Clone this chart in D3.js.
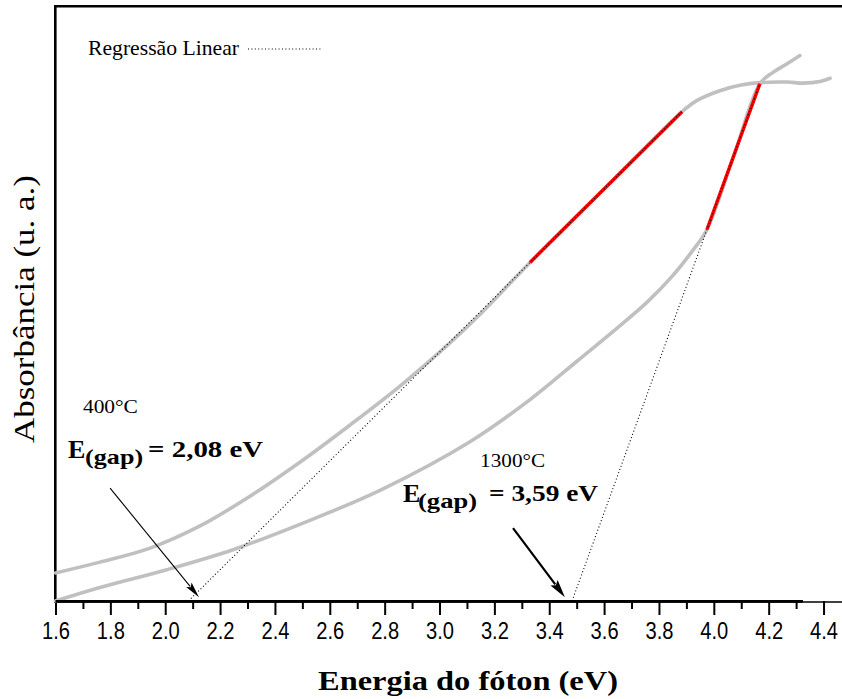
<!DOCTYPE html>
<html>
<head>
<meta charset="utf-8">
<script src="https://cdn.jsdelivr.net/npm/d3@7/dist/d3.min.js"></script>
<style>
  html, body { margin: 0; padding: 0; background: #fff; }
  svg { display: block; }
  .serif { font-family: "Liberation Serif", "Times New Roman", Times, serif; }
</style>
</head>
<body>
<svg id="chart" width="842" height="699"></svg>
<script>
// Absorbance spectra (arbitrary units) versus photon energy (eV)
const energy400 = [1.600, 1.762, 1.945, 2.127, 2.309, 2.491, 2.674, 2.856, 3.038, 3.148, 3.330, 3.607, 3.884, 3.939, 4.022, 4.095, 4.168, 4.267, 4.326, 4.387, 4.424];
const abs400    = [0.052, 0.072, 0.098, 0.139, 0.194, 0.257, 0.326, 0.398, 0.478, 0.531, 0.627, 0.767, 0.906, 0.927, 0.945, 0.955, 0.960, 0.961, 0.959, 0.962, 0.968];

const energy1300 = [1.600, 1.762, 2.006, 2.247, 2.491, 2.783, 3.111, 3.330, 3.501, 3.632, 3.756, 3.851, 3.920, 3.975, 4.072, 4.168, 4.216, 4.267, 4.314];
const abs1300    = [0.000, 0.025, 0.058, 0.095, 0.142, 0.205, 0.295, 0.373, 0.444, 0.499, 0.553, 0.603, 0.647, 0.688, 0.823, 0.958, 0.979, 0.995, 1.010];

// Linear-region fits: [energy, absorbance] end points of each fitted segment
const fit400  = [[3.330, 0.627], [3.884, 0.906]];
const fit1300 = [[3.975, 0.688], [4.168, 0.958]];

// Black reference baseline
const baselineEnergy = [1.600, 4.325];

// Axis ticks
const majorTicks = [1.6, 1.8, 2.0, 2.2, 2.4, 2.6, 2.8, 3.0, 3.2, 3.4, 3.6, 3.8, 4.0, 4.2, 4.4];
const minorTicks = [1.7, 1.9, 2.1, 2.3, 2.5, 2.7, 2.9, 3.1, 3.3, 3.5, 3.7, 3.9, 4.1, 4.3];

// Annotation texts and anchors (energy, absorbance)
const sampleLabels = [
  { text: "400°C",  at: [1.700, 0.348], len: 55 },
  { text: "1300°C", at: [3.148, 0.248], len: 65 }
];
const gapLabels = [
  { value: "= 2,08 eV", at: [1.646, 0.265], valueDx: 80, valueLen: 115, subDx: 17, subLen: 58 },
  { value: "= 3,59 eV", at: [2.867, 0.183], valueDx: 86, valueLen: 109, subDx: 15, subLen: 59 }
];
const gapArrows = [
  { from: [1.799, 0.209], to: [2.123, 0.007], width: 1.1, head: 16, headW: 7 },
  { from: [3.268, 0.135], to: [3.457, 0.007], width: 2.2, head: 18, headW: 9 }
];

const svg = d3.select("#chart");
const W = 842;

const x = d3.scaleLinear().domain([1.6, 4.47]).range([55.5, 55.5 + 2.87 * 274.3]);
const y = d3.scaleLinear().domain([0, 1.1]).range([601, 7]);

// Frame: top and left borders
svg.append("line").attr("x1", 54).attr("x2", W).attr("y1", 6.2).attr("y2", 6.2)
  .attr("stroke", "#000").attr("stroke-width", 2.4);
svg.append("line").attr("x1", 55.3).attr("x2", 55.3).attr("y1", 5).attr("y2", 602.5)
  .attr("stroke", "#000").attr("stroke-width", 2.6);

// Bottom axis line across the full width
svg.append("line").attr("x1", 54).attr("x2", W).attr("y1", 602).attr("y2", 602)
  .attr("stroke", "#000").attr("stroke-width", 1.4);

// Minor and major ticks
const minorAxis = d3.axisBottom(x).tickValues(minorTicks).tickSize(8).tickFormat("");
const majorAxis = d3.axisBottom(x).tickValues(majorTicks).tickSize(14).tickPadding(8)
  .tickFormat(d3.format(".1f"));

const gMinor = svg.append("g").attr("transform", `translate(0,${y(0)})`).call(minorAxis);
const gMajor = svg.append("g").attr("transform", `translate(0,${y(0)})`).call(majorAxis);
[gMinor, gMajor].forEach(g => {
  g.select(".domain").remove();
  g.selectAll(".tick line").attr("stroke", "#000").attr("stroke-width", 2);
});
gMajor.selectAll(".tick text")
  .attr("fill", "#000")
  .attr("font-family", "Liberation Sans Narrow, Arial Narrow, Liberation Sans, Arial, sans-serif")
  .attr("font-size", 23)
  .attr("textLength", 28)
  .attr("lengthAdjust", "spacingAndGlyphs");

// Axis titles
svg.append("text").attr("class", "serif")
  .attr("x", 468).attr("y", 690)
  .attr("text-anchor", "middle")
  .attr("textLength", 300).attr("lengthAdjust", "spacingAndGlyphs")
  .attr("font-weight", "bold").attr("font-size", 28)
  .text("Energia do fóton (eV)");

svg.append("text").attr("class", "serif")
  .attr("transform", "translate(34,309) rotate(-90)")
  .attr("text-anchor", "middle")
  .attr("textLength", 268).attr("lengthAdjust", "spacingAndGlyphs")
  .attr("font-size", 30)
  .text("Absorbância (u. a.)");

// Spectra
const line = d3.line().x(d => x(d[0])).y(d => y(d[1])).curve(d3.curveCatmullRom.alpha(0.5));
const s400 = energy400.map((e, i) => [e, abs400[i]]);
const s1300 = energy1300.map((e, i) => [e, abs1300[i]]);

[s400, s1300].forEach(s => {
  svg.append("path").datum(s).attr("d", line)
    .attr("fill", "none").attr("stroke", "#c0c0c0")
    .attr("stroke-width", 3.6).attr("stroke-linecap", "round").attr("stroke-linejoin", "round");
});

// Black baseline
svg.append("line")
  .attr("x1", x(baselineEnergy[0])).attr("x2", x(baselineEnergy[1]))
  .attr("y1", y(0) + 0.3).attr("y2", y(0) + 0.3)
  .attr("stroke", "#000").attr("stroke-width", 2.8);

// Fitted linear regions (red)
[fit400, fit1300].forEach(f => {
  svg.append("line")
    .attr("x1", x(f[0][0])).attr("y1", y(f[0][1]))
    .attr("x2", x(f[1][0])).attr("y2", y(f[1][1]))
    .attr("stroke", "#ff0000").attr("stroke-width", 3.4).attr("stroke-linecap", "butt");
});

// Regression lines extrapolated down to zero absorbance
[fit400, fit1300].forEach(f => {
  const slope = (f[1][1] - f[0][1]) / (f[1][0] - f[0][0]);
  const e0 = f[0][0] - f[0][1] / slope;
  svg.append("line")
    .attr("x1", x(e0)).attr("y1", y(0))
    .attr("x2", x(f[1][0])).attr("y2", y(f[1][1]))
    .attr("stroke", "#000").attr("stroke-width", 1.1)
    .attr("stroke-dasharray", "1 2.4");
});

// Legend
svg.append("text").attr("class", "serif")
  .attr("x", 88).attr("y", 55)
  .attr("textLength", 151).attr("lengthAdjust", "spacingAndGlyphs")
  .attr("font-size", 21)
  .text("Regressão Linear");
svg.append("line")
  .attr("x1", 248).attr("x2", 321).attr("y1", 49).attr("y2", 49)
  .attr("stroke", "#000").attr("stroke-width", 1.1).attr("stroke-dasharray", "1 2.4");

// Sample temperature labels
sampleLabels.forEach(l => {
  svg.append("text").attr("class", "serif")
    .attr("x", x(l.at[0])).attr("y", y(l.at[1]))
    .attr("textLength", l.len).attr("lengthAdjust", "spacingAndGlyphs")
    .attr("font-size", 19)
    .text(l.text);
});

// Band-gap labels: E with subscript (gap) and the value
gapLabels.forEach(l => {
  const ax = x(l.at[0]), ay = y(l.at[1]);
  const g = svg.append("g").attr("class", "serif").attr("font-weight", "bold");
  g.append("text").attr("x", ax).attr("y", ay).attr("font-size", 26).text("E");
  g.append("text").attr("x", ax + l.subDx).attr("y", ay + 6)
    .attr("textLength", l.subLen).attr("lengthAdjust", "spacingAndGlyphs")
    .attr("font-size", 22).text("(gap)");
  g.append("text").attr("x", ax + l.valueDx).attr("y", ay - 1)
    .attr("textLength", l.valueLen).attr("lengthAdjust", "spacingAndGlyphs")
    .attr("font-size", 24).text(l.value);
});

// Arrows pointing at the extrapolated intercepts
gapArrows.forEach(a => {
  const x1 = x(a.from[0]), y1 = y(a.from[1]);
  const x2 = x(a.to[0]), y2 = y(a.to[1]);
  const dx = x2 - x1, dy = y2 - y1, L = Math.hypot(dx, dy);
  const ux = dx / L, uy = dy / L;
  const bx = x2 - ux * a.head, by = y2 - uy * a.head;
  svg.append("line")
    .attr("x1", x1).attr("y1", y1).attr("x2", bx + ux * 2).attr("y2", by + uy * 2)
    .attr("stroke", "#000").attr("stroke-width", a.width);
  const pts = [
    [x2, y2],
    [bx - uy * a.headW / 2, by + ux * a.headW / 2],
    [bx + ux * 3, by + uy * 3],
    [bx + uy * a.headW / 2, by - ux * a.headW / 2]
  ];
  svg.append("path").attr("d", "M" + pts.map(p => p.join(",")).join("L") + "Z").attr("fill", "#000");
});
</script>
</body>
</html>
